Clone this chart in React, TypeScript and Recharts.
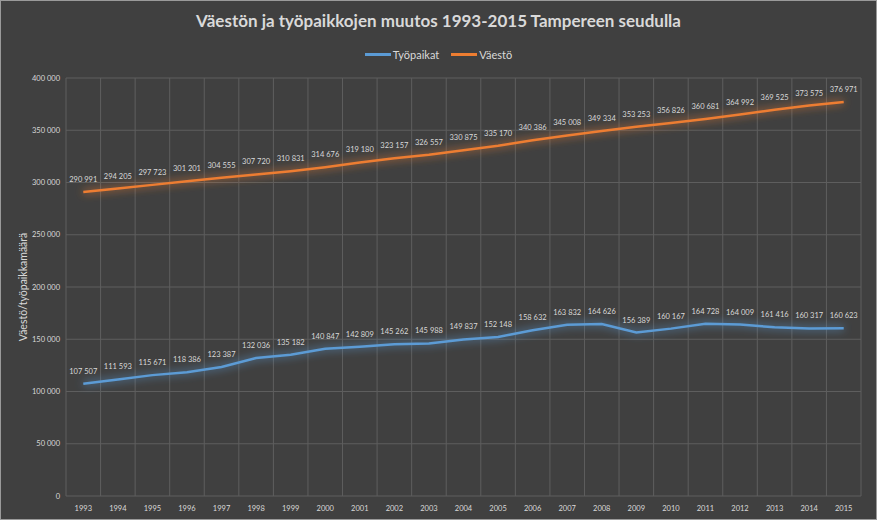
import React from 'react';
import { LineChart, Line, XAxis, YAxis, CartesianGrid, Legend, LabelList } from 'recharts';

const years = ['1993','1994','1995','1996','1997','1998','1999','2000','2001','2002','2003','2004','2005','2006','2007','2008','2009','2010','2011','2012','2013','2014','2015'];
const tyopaikat = [107507,111593,115671,118386,123387,132036,135182,140847,142809,145262,145988,149837,152148,158632,163832,164626,156389,160167,164728,164009,161416,160317,160623];
const vaesto = [290991,294205,297723,301201,304555,307720,310831,314676,319180,323157,326557,330875,335170,340386,345008,349334,353253,356826,360681,364992,369525,373575,376971];
const yTicks = [0,50000,100000,150000,200000,250000,300000,350000,400000];
const gridTicks = Array.from({ length: years.length + 1 }, (_, i) => i);

const data = years.map((y, i) => ({ year: y, idx: i + 0.5, tyo: tyopaikat[i], vae: vaesto[i] }));

const fmt = (v: number) => String(v).replace(/\B(?=(\d{3})+(?!\d))/g, ' ');

const FONT = 'Lato, "Open Sans", sans-serif';
const TXT = '#d9d9d9';
const HALF = (861 - 66) / years.length / 2;

const LegendContent = () => (
  <div style={{ display: 'flex', justifyContent: 'center', alignItems: 'center', fontFamily: FONT, fontSize: 11, color: TXT }}>
    <span style={{ display: 'inline-block', width: 26, height: 2.5, background: '#5b9bd5', marginRight: 2 }} />
    <span style={{ marginRight: 12 }}>Työpaikat</span>
    <span style={{ display: 'inline-block', width: 26, height: 2.5, background: '#ed7d31', marginRight: 2 }} />
    <span>Väestö</span>
  </div>
);

export default function App() {
  return (
    <div style={{ position: 'absolute', left: 0, top: 0, width: 877, height: 520, background: '#404040' }}>
      <div style={{ position: 'absolute', left: 0, top: 10, width: 877, textAlign: 'center', fontFamily: FONT, fontWeight: 700, fontSize: 17, color: TXT }}>
        Väestön ja työpaikkojen muutos 1993-2015 Tampereen seudulla
      </div>
      <LineChart width={877} height={520} data={data} margin={{ top: 78, right: 16, bottom: 0, left: 0 }}>
        <defs>
          <filter id="glow" x="-10%" y="-50%" width="120%" height="200%">
            <feGaussianBlur in="SourceGraphic" stdDeviation="4" result="blur" />
            <feMerge>
              <feMergeNode in="blur" />
              <feMergeNode in="SourceGraphic" />
            </feMerge>
          </filter>
        </defs>
        <CartesianGrid stroke="#5e5e5e" strokeWidth={1} xAxisId="grid" />
        <XAxis xAxisId="grid" type="number" dataKey="idx" domain={[0, years.length]} ticks={gridTicks} hide />
        <XAxis dataKey="year" height={24} axisLine={false} tickLine={false} interval={0}
          padding={{ left: HALF, right: HALF }}
          tick={{ fontSize: 7.5, fill: TXT, fontFamily: FONT }} tickMargin={4} />
        <YAxis width={66} domain={[0, 400000]} ticks={yTicks} axisLine={false} tickLine={false}
          tickFormatter={fmt} tick={{ fontSize: 7.5, fill: TXT, fontFamily: FONT }} tickMargin={0}
          label={{ value: 'Väestö/työpaikkamäärä', angle: -90, position: 'insideLeft', offset: 23, style: { fontSize: 10.5, fill: TXT, fontFamily: FONT, textAnchor: 'middle' } }} />
        <Legend verticalAlign="middle" layout="horizontal" content={<LegendContent />}
          wrapperStyle={{ top: 48, left: 0, width: 877 }} />
        <Line name="Työpaikat" dataKey="tyo" stroke="#5b9bd5" strokeWidth={2.5} dot={false} isAnimationActive={false} style={{ filter: 'url(#glow)' }}>
          <LabelList dataKey="tyo" position="top" offset={10} formatter={(v: any) => fmt(v)} style={{ fontSize: 7.5, fill: TXT, fontFamily: FONT, filter: 'none' }} />
        </Line>
        <Line name="Väestö" dataKey="vae" stroke="#ed7d31" strokeWidth={2.5} dot={false} isAnimationActive={false} style={{ filter: 'url(#glow)' }}>
          <LabelList dataKey="vae" position="top" offset={10} formatter={(v: any) => fmt(v)} style={{ fontSize: 7.5, fill: TXT, fontFamily: FONT, filter: 'none' }} />
        </Line>
      </LineChart>
      <div style={{ position: 'absolute', left: 0, top: 0, width: 877, height: 520, boxSizing: 'border-box', border: '1px solid #9a9a9a', pointerEvents: 'none' }} />
    </div>
  );
}
